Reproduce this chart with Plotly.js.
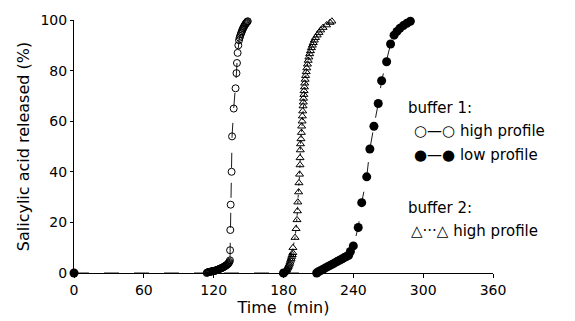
<!DOCTYPE html>
<html>
<head>
<meta charset="utf-8">
<script src="https://cdn.plot.ly/plotly-3.0.1.min.js"></script>
<style>html,body{margin:0;padding:0;background:#fff;}#chart{width:575px;height:321px;}</style>
</head>
<body>
<div id="chart"></div>
<script>
// ---- data (time in min, % released) ----
const hb1Time = [114,114.5,115,115.5,116,116.5,117,117.5,118,118.5,119,119.5,120,120.5,121,121.5,122,122.5,123,123.5,124,124.5,125,125.5,126,126.5,127,127.5,128,128.5,129,129.5,130,130.5,131,131.5,132,132.5,133,133.5,134,134.1,134.3,134.6,135.4,135.8,137.2,138.8,139.6,140,140.6,141.2,141.8,142.3,142.8,143.3,143.8,144.3,144.8,145.3,145.8,146.3,146.8,147.3,147.8,148.3,148.8,149.3];
const hb1Value = [0,0.2,0.3,0.35,0.4,0.45,0.5,0.55,0.6,0.65,0.7,0.75,0.8,0.85,0.9,0.95,1.0,1.1,1.2,1.3,1.4,1.5,1.6,1.7,1.8,1.9,2.0,2.1,2.2,2.35,2.5,2.65,2.8,2.95,3.1,3.3,3.5,3.7,4.0,4.4,5,9,17,27,40,54,65,73,79,83,87,90,92,93,93.7,94.4,95,95.6,96.2,96.7,97.2,97.6,98,98.4,98.7,99,99.3,99.5];

const lb1Time = [0,180,208.5,210,212,214,216,218,220,222,224,226,228,230,232,234,236,237.5,240,244.2,247.2,251.5,254.2,257.7,261.4,264.3,268.6,272,275,277.5,280,283,286,289];
const lb1Value = [0,0,0,0.5,1,1.5,2,2.5,3,3.5,4,4.5,5,5.5,6,6.5,7,8.5,10.7,18,27.8,38,49,58,67,76,83.5,90.5,94,95.5,96.7,97.8,98.7,99.5];

const hb2Time = [180,180.5,181,181.5,182,182.5,183,183.5,184,184.5,185,185.5,186,186.5,187,187.5,188,188.1,189.9,190.8,191.6,192,192.3,193,193.3,193.8,194.2,194.2,194.4,194.6,195,195.4,195.6,196,196.2,196.5,196.8,197,197.2,197.5,197.7,198,198.2,198.6,199,199.5,200,200.6,201.2,201.8,202.5,203.2,204,204.8,205.6,206.5,207.5,209,210.5,212,214,217,220,221.6];
const hb2Value = [0,0.2,0.5,0.8,1,1.2,1.5,2,2.5,3,3.5,4.2,5,5.7,6.5,7.2,8,10,14,17.5,21,24.5,28,32,35.6,39,42.7,45.5,48.6,51,53,55.5,58,60,62,64,66,67.5,69,70.5,72,73.5,75,76.5,78,79.5,81,82.5,84,85.3,86.6,87.8,89,90,91,92,93,94,95,96,97,98,99,99.5];

const xTicks = [0,60,120,180,240,300,360];
const yTicks = [0,20,40,60,80,100];

const FONT = 'DejaVu Sans, sans-serif';

const traces = [
  {x: hb1Time, y: hb1Value, type:'scatter', mode:'lines+markers', name:'buffer 1 high profile',
   line:{color:'#000', width:0.9, dash:'longdash'}, marker:{symbol:'circle-open', size:7, color:'#000', line:{width:1, color:'#000'}}, cliponaxis:false},
  {x: lb1Time, y: lb1Value, type:'scatter', mode:'lines+markers', name:'buffer 1 low profile',
   line:{color:'#000', width:0.9, dash:'longdash'}, marker:{symbol:'circle', size:9, color:'#000'}, cliponaxis:false},
  {x: hb2Time, y: hb2Value, type:'scatter', mode:'lines+markers', name:'buffer 2 high profile',
   line:{color:'#000', width:0.9, dash:'dot'}, marker:{symbol:'triangle-up-open', size:7, color:'#000', line:{width:1, color:'#000'}}, cliponaxis:false}
];

const L = 74, R = 493, T = 20, B = 273, W = 575, H = 321;
const px = v => (v - L) / (R - L);
const py = v => (B - v) / (B - T);

function ann(text, x, y, size){
  return {text:text, xref:'paper', yref:'paper', x:px(x), y:py(y), xanchor:'left', yanchor:'middle',
          showarrow:false, font:{family:FONT, size:size||15, color:'#000'}};
}

const layout = {
  width: W, height: H,
  margin: {l: L, r: W - R, t: T, b: H - B},
  paper_bgcolor:'#fff', plot_bgcolor:'#fff',
  showlegend:false,
  font:{family:FONT, color:'#000'},
  xaxis:{range:[0,360], tickvals:xTicks, ticktext:xTicks.map(String), showgrid:false, zeroline:false,
         showline:true, linecolor:'#000', linewidth:1, ticks:'outside', ticklen:4, tickcolor:'#000',
         tickfont:{family:FONT, size:14}, fixedrange:true,
         title:{text:'Time  (min)', font:{family:FONT, size:16}, standoff:4}},
  yaxis:{range:[0,100], tickvals:yTicks, ticktext:yTicks.map(String), showgrid:false, zeroline:false,
         showline:true, linecolor:'#000', linewidth:1, ticks:'outside', ticklen:3, tickcolor:'#000',
         tickfont:{family:FONT, size:14}, fixedrange:true,
         title:{text:'Salicylic acid released (%)', font:{family:FONT, size:16}, standoff:6}},
  annotations:[
    ann('buffer 1:', 406, 108),
    ann('○—○ high profile', 412, 131),
    ann('●—● low profile', 412, 155),
    ann('buffer 2:', 406, 208),
    ann('△···△ high profile', 409, 231)
  ]
};

Plotly.newPlot('chart', traces, layout, {displayModeBar:false, staticPlot:true});
</script>
</body>
</html>
